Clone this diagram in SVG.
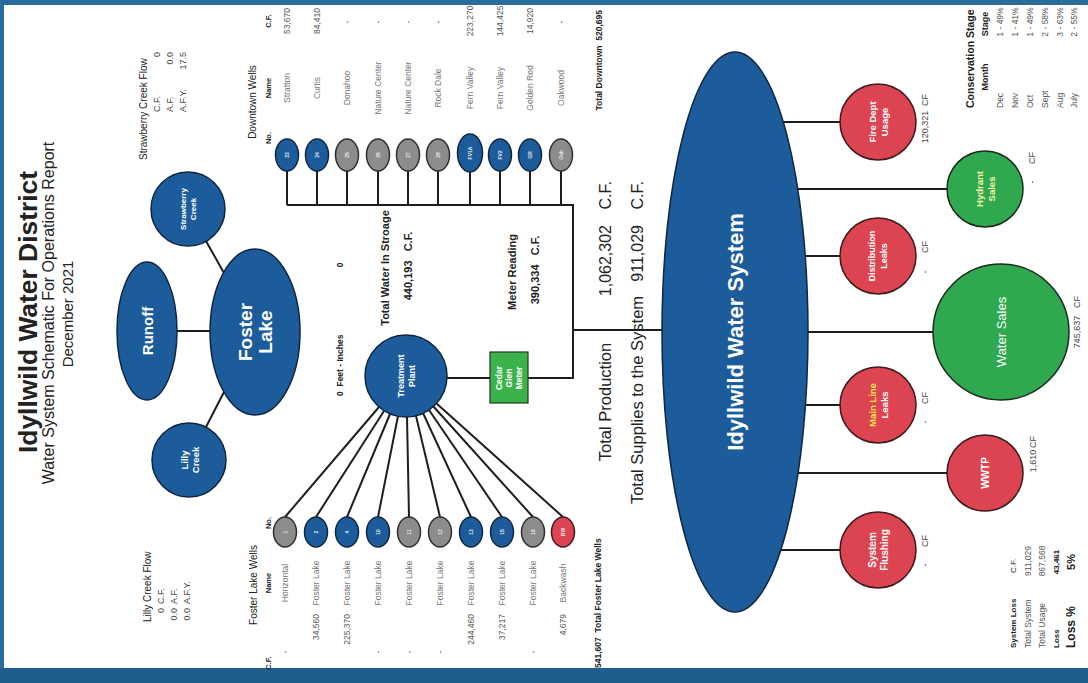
<svg xmlns="http://www.w3.org/2000/svg" width="1088" height="683" viewBox="0 0 1088 683">
<style>
text{font-family:"Liberation Sans",Arial,sans-serif;dominant-baseline:central;fill:#222;white-space:pre}
.m{text-anchor:middle}.s{text-anchor:start}.e{text-anchor:end}
.b{font-weight:bold}
.ln{stroke:#1e1e1e;stroke-width:2;fill:none}
.blue{fill:#1d5c9b;stroke:#10263f;stroke-width:1.5}
.gray{fill:#8c8c8c;stroke:#2e2e2e;stroke-width:1.5}
.red{fill:#dc4452;stroke:#3b1b1e;stroke-width:1.5}
.green{fill:#30a84f;stroke:#1c2a1e;stroke-width:1.5}
.nt{fill:#fff;font-weight:bold;text-anchor:middle}
.wt{fill:#e8e8e8;font-weight:bold;text-anchor:middle;font-size:5px}
.sm{font-size:8.5px;fill:#555}
.nm{font-size:8.5px;fill:#777;text-anchor:middle}
.lb{font-size:9px;fill:#444}
</style>
<rect width="1088" height="683" fill="#fff"/>
<rect x="0" y="0" width="1088" height="5" fill="#2a6c9c"/>
<rect x="0" y="0" width="4" height="683" fill="#2a6c9c"/>
<rect x="0" y="668" width="1088" height="15" fill="#1f5d8d"/>

<g id="title">
<text class="m b" font-size="25" textLength="282" lengthAdjust="spacingAndGlyphs" transform="translate(28 312) rotate(-90)">Idyllwild Water District</text>
<text class="m" font-size="16" transform="translate(48 313) rotate(-90)">Water System Schematic For Operations Report</text>
<text class="m" font-size="15" transform="translate(67 314) rotate(-90)">December 2021</text>
</g>

<g id="connectors">
<line class="ln" x1="177" y1="331" x2="212" y2="331"/>
<line class="ln" x1="206" y1="241" x2="224" y2="273"/>
<line class="ln" x1="206" y1="427" x2="224" y2="392"/>
<line class="ln" x1="285" y1="517" x2="379" y2="407"/>
<line class="ln" x1="316" y1="517" x2="384" y2="411"/>
<line class="ln" x1="347" y1="517" x2="390" y2="414"/>
<line class="ln" x1="378" y1="517" x2="398" y2="416"/>
<line class="ln" x1="409" y1="517" x2="407" y2="417"/>
<line class="ln" x1="440" y1="517" x2="416" y2="416"/>
<line class="ln" x1="471" y1="517" x2="423" y2="413"/>
<line class="ln" x1="502" y1="517" x2="429" y2="410"/>
<line class="ln" x1="533" y1="517" x2="433" y2="406"/>
<line class="ln" x1="563" y1="517" x2="436" y2="403"/>
<line class="ln" x1="447" y1="378" x2="490" y2="378"/>
<polyline class="ln" points="528,378 573,378 573,205 287,205"/>
<line class="ln" x1="573" y1="330" x2="680" y2="330"/>
<line class="ln" x1="287" y1="171" x2="287" y2="205"/>
<line class="ln" x1="317" y1="171" x2="317" y2="205"/>
<line class="ln" x1="347" y1="171" x2="347" y2="205"/>
<line class="ln" x1="378" y1="171" x2="378" y2="205"/>
<line class="ln" x1="408" y1="171" x2="408" y2="205"/>
<line class="ln" x1="438" y1="171" x2="438" y2="205"/>
<line class="ln" x1="470" y1="171" x2="470" y2="205"/>
<line class="ln" x1="500" y1="171" x2="500" y2="205"/>
<line class="ln" x1="530" y1="171" x2="530" y2="205"/>
<line class="ln" x1="561" y1="171" x2="561" y2="205"/>
<line class="ln" x1="770" y1="122" x2="842" y2="122"/>
<line class="ln" x1="790" y1="189" x2="948" y2="189"/>
<line class="ln" x1="795" y1="256" x2="842" y2="256"/>
<line class="ln" x1="795" y1="332" x2="934" y2="332"/>
<line class="ln" x1="795" y1="405" x2="842" y2="405"/>
<line class="ln" x1="790" y1="473" x2="948" y2="473"/>
<line class="ln" x1="770" y1="550" x2="842" y2="550"/>
</g>

<g id="runoff"><ellipse class="blue" cx="147" cy="331" rx="30" ry="69"/><text class="nt" font-size="15" transform="translate(147 331) rotate(-90)">Runoff</text></g>
<g id="foster-lake"><ellipse class="blue" cx="255" cy="332" rx="45" ry="83"/><text class="nt" font-size="19" transform="translate(255 332) rotate(-90)"><tspan x="0" y="-10">Foster</tspan><tspan x="0" y="10">Lake</tspan></text></g>
<g id="lilly-creek"><circle class="blue" cx="189" cy="460" r="37"/><text class="nt" font-size="9.5" transform="translate(189 460) rotate(-90)"><tspan x="0" y="-5.5">Lilly</tspan><tspan x="0" y="5.5">Creek</tspan></text></g>
<g id="strawberry-creek"><circle class="blue" cx="188" cy="209" r="37"/><text class="nt" font-size="8" transform="translate(188 209) rotate(-90)"><tspan x="0" y="-5">Strawberry</tspan><tspan x="0" y="5">Creek</tspan></text></g>

<g id="strawberry-flow">
<text class="s" font-size="10" transform="translate(143 160) rotate(-90)">Strawberry Creek Flow</text>
<text class="s lb" transform="translate(157 112) rotate(-90)">C.F.</text><text class="e lb" transform="translate(157 52) rotate(-90)">0</text>
<text class="s lb" transform="translate(170 112) rotate(-90)">A.F.</text><text class="e lb" transform="translate(170 52) rotate(-90)">0.0</text>
<text class="s lb" transform="translate(183 112) rotate(-90)">A.F.Y.</text><text class="e lb" transform="translate(183 52) rotate(-90)">17.5</text>
</g>
<g id="lilly-flow">
<text class="s" font-size="10" transform="translate(147 622) rotate(-90)">Lilly Creek Flow</text>
<text class="e lb" transform="translate(161 608) rotate(-90)">0</text><text class="s lb" transform="translate(161 604) rotate(-90)">C.F.</text>
<text class="e lb" transform="translate(174 608) rotate(-90)">0.0</text><text class="s lb" transform="translate(174 604) rotate(-90)">A.F.</text>
<text class="e lb" transform="translate(187 608) rotate(-90)">0.0</text><text class="s lb" transform="translate(187 604) rotate(-90)">A.F.Y.</text>
</g>

<g id="lake-level">
<text class="s b" font-size="8.5" transform="translate(340 396) rotate(-90)">0  Feet - Inches</text>
<text class="m b" font-size="8.5" transform="translate(340 265) rotate(-90)">0</text>
</g>
<g id="storage">
<text class="m b" font-size="11" transform="translate(385 268) rotate(-90)">Total Water In Stroage</text>
<text class="m b" font-size="11" transform="translate(408 266) rotate(-90)">440,193   C.F.</text>
</g>
<g id="meter-reading">
<text class="m b" font-size="11" transform="translate(512 272) rotate(-90)">Meter Reading</text>
<text class="m b" font-size="11" transform="translate(535 270) rotate(-90)">390,334   C.F.</text>
</g>

<g id="foster-wells">
<text class="m" font-size="10" transform="translate(253 585) rotate(-90)">Foster Lake Wells</text>
<text class="m b" font-size="7.5" transform="translate(268 523) rotate(-90)">No.</text>
<text class="m b" font-size="7.5" transform="translate(268 583) rotate(-90)">Name</text>
<text class="m b" font-size="7.5" transform="translate(268 663) rotate(-90)">C.F.</text>
<ellipse class="gray" cx="285" cy="532" rx="11.5" ry="15"/><text class="wt" transform="translate(285 532) rotate(-90)">1</text>
<ellipse class="blue" cx="316" cy="532" rx="11.5" ry="15"/><text class="wt" transform="translate(316 532) rotate(-90)">2</text>
<ellipse class="blue" cx="347" cy="532" rx="11.5" ry="15"/><text class="wt" transform="translate(347 532) rotate(-90)">4</text>
<ellipse class="blue" cx="378" cy="532" rx="11.5" ry="15"/><text class="wt" transform="translate(378 532) rotate(-90)">10</text>
<ellipse class="gray" cx="409" cy="532" rx="11.5" ry="15"/><text class="wt" transform="translate(409 532) rotate(-90)">11</text>
<ellipse class="gray" cx="440" cy="532" rx="11.5" ry="15"/><text class="wt" transform="translate(440 532) rotate(-90)">12</text>
<ellipse class="blue" cx="471" cy="532" rx="11.5" ry="15"/><text class="wt" transform="translate(471 532) rotate(-90)">13</text>
<ellipse class="blue" cx="502" cy="532" rx="11.5" ry="15"/><text class="wt" transform="translate(502 532) rotate(-90)">15</text>
<ellipse class="gray" cx="533" cy="532" rx="11.5" ry="15"/><text class="wt" transform="translate(533 532) rotate(-90)">16</text>
<ellipse class="red" cx="563" cy="532" rx="11.5" ry="15"/><text class="wt" transform="translate(563 532) rotate(-90)">BW</text>
<text class="nm" transform="translate(285 583) rotate(-90)">Horizontal</text>
<text class="nm" transform="translate(316 583) rotate(-90)">Foster Lake</text>
<text class="nm" transform="translate(347 583) rotate(-90)">Foster Lake</text>
<text class="nm" transform="translate(378 583) rotate(-90)">Foster Lake</text>
<text class="nm" transform="translate(409 583) rotate(-90)">Foster Lake</text>
<text class="nm" transform="translate(440 583) rotate(-90)">Foster Lake</text>
<text class="nm" transform="translate(471 583) rotate(-90)">Foster Lake</text>
<text class="nm" transform="translate(502 583) rotate(-90)">Foster Lake</text>
<text class="nm" transform="translate(533 583) rotate(-90)">Foster Lake</text>
<text class="nm" transform="translate(563 583) rotate(-90)">Backwash</text>
<text class="m sm" transform="translate(285 652) rotate(-90)">-</text>
<text class="e sm" transform="translate(316 614) rotate(-90)">34,560</text>
<text class="e sm" transform="translate(347 614) rotate(-90)">225,370</text>
<text class="m sm" transform="translate(378 652) rotate(-90)">-</text>
<text class="m sm" transform="translate(409 652) rotate(-90)">-</text>
<text class="m sm" transform="translate(440 652) rotate(-90)">-</text>
<text class="e sm" transform="translate(471 614) rotate(-90)">244,460</text>
<text class="e sm" transform="translate(502 614) rotate(-90)">37,217</text>
<text class="m sm" transform="translate(533 652) rotate(-90)">-</text>
<text class="e sm" transform="translate(563 614) rotate(-90)">4,679</text>
<text class="s b" font-size="8.5" transform="translate(598 668) rotate(-90)">541,607  Total Foster Lake Wells</text>
</g>

<g id="downtown-wells">
<text class="m" font-size="10" transform="translate(252 102) rotate(-90)">Downtown Wells</text>
<text class="m b" font-size="7.5" transform="translate(268 138) rotate(-90)">No.</text>
<text class="m b" font-size="7.5" transform="translate(268 88) rotate(-90)">Name</text>
<text class="m b" font-size="7.5" transform="translate(268 21) rotate(-90)">C.F.</text>
<ellipse class="blue" cx="287" cy="155" rx="11.5" ry="16"/><text class="wt" transform="translate(287 155) rotate(-90)">23</text>
<ellipse class="blue" cx="317" cy="155" rx="11.5" ry="16"/><text class="wt" transform="translate(317 155) rotate(-90)">24</text>
<ellipse class="gray" cx="347" cy="155" rx="11.5" ry="16"/><text class="wt" transform="translate(347 155) rotate(-90)">25</text>
<ellipse class="gray" cx="378" cy="155" rx="11.5" ry="16"/><text class="wt" transform="translate(378 155) rotate(-90)">26</text>
<ellipse class="gray" cx="408" cy="155" rx="11.5" ry="16"/><text class="wt" transform="translate(408 155) rotate(-90)">27</text>
<ellipse class="gray" cx="438" cy="155" rx="11.5" ry="16"/><text class="wt" transform="translate(438 155) rotate(-90)">28</text>
<ellipse class="blue" cx="470" cy="153" rx="12.5" ry="19"/><text class="wt" transform="translate(470 153) rotate(-90)">FV1A</text>
<ellipse class="blue" cx="500" cy="155" rx="11.5" ry="16"/><text class="wt" transform="translate(500 155) rotate(-90)">FV2</text>
<ellipse class="blue" cx="530" cy="155" rx="11.5" ry="16"/><text class="wt" transform="translate(530 155) rotate(-90)">GR</text>
<ellipse class="gray" cx="561" cy="155" rx="11.5" ry="16"/><text class="wt" transform="translate(561 155) rotate(-90)">Oak</text>
<text class="nm" transform="translate(287 88) rotate(-90)">Stratton</text>
<text class="nm" transform="translate(317 88) rotate(-90)">Curtis</text>
<text class="nm" transform="translate(347 88) rotate(-90)">Donahoo</text>
<text class="nm" transform="translate(378 88) rotate(-90)">Nature Center</text>
<text class="nm" transform="translate(408 88) rotate(-90)">Nature Center</text>
<text class="nm" transform="translate(438 88) rotate(-90)">Rock Dale</text>
<text class="nm" transform="translate(470 88) rotate(-90)">Fern Valley</text>
<text class="nm" transform="translate(500 88) rotate(-90)">Fern Valley</text>
<text class="nm" transform="translate(530 88) rotate(-90)">Golden Rod</text>
<text class="nm" transform="translate(561 88) rotate(-90)">Oakwood</text>
<text class="m sm" transform="translate(287 21) rotate(-90)">53,670</text>
<text class="m sm" transform="translate(317 21) rotate(-90)">84,410</text>
<text class="m sm" transform="translate(347 22) rotate(-90)">-</text>
<text class="m sm" transform="translate(378 22) rotate(-90)">-</text>
<text class="m sm" transform="translate(408 22) rotate(-90)">-</text>
<text class="m sm" transform="translate(438 22) rotate(-90)">-</text>
<text class="m sm" transform="translate(470 21) rotate(-90)">223,270</text>
<text class="m sm" transform="translate(500 21) rotate(-90)">144,425</text>
<text class="m sm" transform="translate(530 21) rotate(-90)">14,920</text>
<text class="m sm" transform="translate(561 22) rotate(-90)">-</text>
<text class="e b" font-size="8.5" transform="translate(599 10) rotate(-90)">Total Downtown  520,695</text>
</g>

<g id="treatment-plant"><circle class="blue" cx="406" cy="376" r="41"/><text class="nt" font-size="9" transform="translate(406 376) rotate(-90)"><tspan x="0" y="-5.5">Treatment</tspan><tspan x="0" y="5.5">Plant</tspan></text></g>
<g id="cedar-glen-meter"><rect x="490" y="352" width="38" height="51" fill="#3bb34a" stroke="#1d3a20" stroke-width="1.2"/><text class="nt" font-size="8.5" transform="translate(509 378) rotate(-90)"><tspan x="0" y="-10">Cedar</tspan><tspan x="0" y="0">Glen</tspan><tspan x="0" y="10">Meter</tspan></text></g>

<g id="totals">
<text class="m" font-size="16.5" transform="translate(605 402) rotate(-90)">Total Production</text>
<text class="e" font-size="16" transform="translate(605 225) rotate(-90)">1,062,302</text>
<text class="e" font-size="16" transform="translate(605 181) rotate(-90)">C.F.</text>
<text class="m" font-size="16.5" transform="translate(637 400) rotate(-90)">Total Supplies to the System</text>
<text class="e" font-size="16" transform="translate(637 225) rotate(-90)">911,029</text>
<text class="e" font-size="16" transform="translate(637 181) rotate(-90)">C.F.</text>
</g>

<g id="water-system"><ellipse class="blue" cx="735" cy="332" rx="73" ry="280"/><text class="nt" font-size="22" transform="translate(735 332) rotate(-90)">Idyllwild Water System</text></g>

<g id="fire-dept"><circle class="red" cx="878" cy="122" r="38"/><text class="nt" font-size="9.5" transform="translate(878 122) rotate(-90)"><tspan x="0" y="-6">Fire Dept</tspan><tspan x="0" y="6">Usage</tspan></text>
<text class="m lb" transform="translate(925 127) rotate(-90)">120,321</text><text class="m lb" transform="translate(925 100) rotate(-90)">CF</text></g>
<g id="hydrant-sales"><circle class="green" cx="985" cy="189" r="38"/><text class="nt" font-size="9.5" style="fill:#f4f1a8" transform="translate(985 189) rotate(-90)"><tspan x="0" y="-6">Hydrant</tspan><tspan x="0" y="6">Sales</tspan></text>
<text class="m lb" transform="translate(1032 182) rotate(-90)">-</text><text class="m lb" transform="translate(1032 158) rotate(-90)">CF</text></g>
<g id="distribution-leaks"><circle class="red" cx="878" cy="256" r="38"/><text class="nt" font-size="9" transform="translate(878 256) rotate(-90)"><tspan x="0" y="-6">Distribution</tspan><tspan x="0" y="6">Leaks</tspan></text>
<text class="m lb" transform="translate(925 272) rotate(-90)">-</text><text class="m lb" transform="translate(925 247) rotate(-90)">CF</text></g>
<g id="water-sales"><circle class="green" cx="1001" cy="332" r="68"/><text class="nt" font-size="13" style="font-weight:normal" transform="translate(1001 332) rotate(-90)">Water Sales</text>
<text class="m lb" transform="translate(1077 332) rotate(-90)">745,637</text><text class="m lb" transform="translate(1077 302) rotate(-90)">CF</text></g>
<g id="main-line-leaks"><circle class="red" cx="878" cy="405" r="38"/><text class="nt" font-size="9.5" transform="translate(878 405) rotate(-90)"><tspan x="0" y="-6" style="fill:#ffe84a">Main Line</tspan><tspan x="0" y="6">Leaks</tspan></text>
<text class="m lb" transform="translate(925 422) rotate(-90)">-</text><text class="m lb" transform="translate(925 398) rotate(-90)">CF</text></g>
<g id="wwtp"><circle class="red" cx="985" cy="473" r="38"/><text class="nt" font-size="10" transform="translate(985 473) rotate(-90)">WWTP</text>
<text class="m lb" transform="translate(1033 461) rotate(-90)">1,610</text><text class="m lb" transform="translate(1033 442) rotate(-90)">CF</text></g>
<g id="system-flushing"><circle class="red" cx="878" cy="550" r="38"/><text class="nt" font-size="10" transform="translate(878 550) rotate(-90)"><tspan x="0" y="-6">System</tspan><tspan x="0" y="6">Flushing</tspan></text>
<text class="m lb" transform="translate(925 565) rotate(-90)">-</text><text class="m lb" transform="translate(925 541) rotate(-90)">CF</text></g>

<g id="conservation">
<text class="s b" font-size="10.5" transform="translate(970 108) rotate(-90)">Conservation Stage</text>
<text class="m b" font-size="9" transform="translate(985 77) rotate(-90)">Month</text>
<text class="m b" font-size="9" transform="translate(985 24) rotate(-90)">Stage</text>
<text class="s sm" transform="translate(1000 108) rotate(-90)">Dec</text><text class="m sm" transform="translate(1000 22) rotate(-90)">1 - 49%</text>
<text class="s sm" transform="translate(1015 108) rotate(-90)">Nov</text><text class="m sm" transform="translate(1015 22) rotate(-90)">1 - 41%</text>
<text class="s sm" transform="translate(1030 108) rotate(-90)">Oct</text><text class="m sm" transform="translate(1030 22) rotate(-90)">1 - 49%</text>
<text class="s sm" transform="translate(1045 108) rotate(-90)">Sept</text><text class="m sm" transform="translate(1045 22) rotate(-90)">2 - 58%</text>
<text class="s sm" transform="translate(1060 108) rotate(-90)">Aug</text><text class="m sm" transform="translate(1060 22) rotate(-90)">3 - 63%</text>
<text class="s sm" transform="translate(1074 108) rotate(-90)">July</text><text class="m sm" transform="translate(1074 22) rotate(-90)">2 - 55%</text>
</g>

<g id="system-loss">
<text class="s b" font-size="8" transform="translate(1013 648) rotate(-90)">System Loss</text><text class="m" font-size="8" transform="translate(1013 566) rotate(-90)">C.F.</text>
<text class="s sm" font-size="7.5" transform="translate(1028 648) rotate(-90)">Total System</text><text class="m sm" transform="translate(1028 561) rotate(-90)">911,029</text>
<text class="s sm" transform="translate(1042 648) rotate(-90)">Total Usage</text><text class="m sm" transform="translate(1042 561) rotate(-90)">867,568</text>
<text class="s b" font-size="8" transform="translate(1056 648) rotate(-90)">Loss</text><text class="m b" font-size="8" transform="translate(1056 562) rotate(-90)">43,461</text>
<text class="s b" font-size="12" transform="translate(1071 648) rotate(-90)">Loss %</text><text class="m b" font-size="11" transform="translate(1071 562) rotate(-90)">5%</text>
</g>
</svg>
